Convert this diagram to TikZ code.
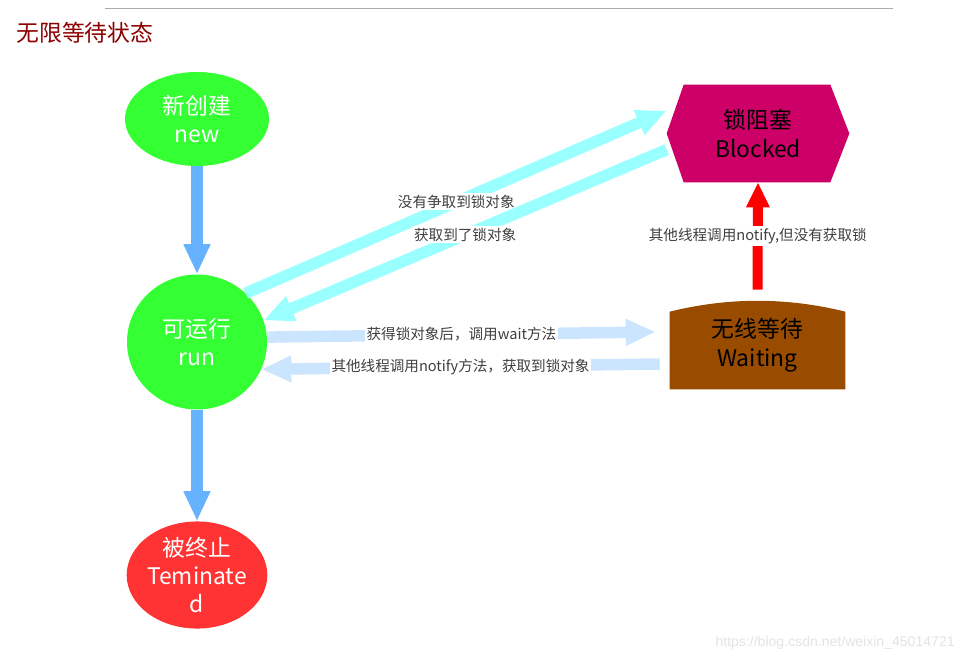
\documentclass[tikz,border=0pt]{standalone}
\usepackage{fontspec}
\setmainfont{Noto Sans CJK SC}
\newfontfamily\markfont{Liberation Sans}
\usetikzlibrary{arrows.meta,shapes.geometric,backgrounds}
\definecolor{stategreen}{HTML}{33FF33}
\definecolor{endred}{HTML}{FF3333}
\definecolor{blockpink}{HTML}{CC0066}
\definecolor{waitbrown}{HTML}{994C00}
\definecolor{downblue}{HTML}{66B2FF}
\definecolor{lockcyan}{HTML}{99FFFF}
\definecolor{paleblue}{HTML}{CCE5FF}
\definecolor{notifyred}{HTML}{FF0000}
\definecolor{titlered}{HTML}{8B0000}
\definecolor{labelgray}{HTML}{3F3F3F}
\definecolor{rulegray}{HTML}{AAAAAA}
\definecolor{markgray}{HTML}{E3E3E3}

\begin{document}
\begin{tikzpicture}[x=0.02cm, y=-0.02cm,
    state/.style={ellipse, align=center, inner sep=0pt, text=white, font=\fontsize{13}{16}\selectfont},
    lbl/.style={midway, fill=white, inner sep=1pt, text=labelgray, font=\fontsize{8.3}{10}\selectfont},
    fat/.style={line width=0.23cm, -{Triangle[length=0.6cm,width=0.5cm]}}]
    \useasboundingbox (0,0) rectangle (969,662);

        % Header
        \draw[draw=rulegray, line width=0.02cm] (105,9) -- (893,9);
        \node (title) [anchor=west, inner sep=0pt, text=titlered, font=\fontsize{13}{16}\selectfont] at (16,33) {无限等待状态};

        % Nodes
        \node (new) [state, fill=stategreen, minimum width=2.88cm, minimum height=1.88cm] at (197,119) {新创建\\new};
        \node (run) [state, fill=stategreen, minimum width=2.8cm, minimum height=2.7cm] at (197,342) {可运行\\run};
        \node (terminated) [state, fill=endred, minimum width=2.8cm, minimum height=2.1cm] at (197,575) {被终止\\Teminate\\d};
        \node (blocked) [align=center, font=\fontsize{13}{16.5}\selectfont, minimum width=3.64cm, minimum height=1.94cm] at (758,133.5) {锁阻塞\\Blocked};
        \node (waiting) [align=center, font=\fontsize{13}{16.5}\selectfont, minimum width=3.5cm, minimum height=1.76cm] at (757.5,345) {无线等待\\Waiting};

        \begin{pgfonlayer}{background}
            \fill[blockpink] (blocked.west) -- ([xshift=0.34cm]blocked.north west) -- ([xshift=-0.38cm]blocked.north east) -- (blocked.east) -- ([xshift=-0.38cm]blocked.south east) -- ([xshift=0.34cm]blocked.south west) -- cycle;
            \fill[waitbrown] (waiting.south west) -- ([yshift=-0.22cm]waiting.north west) .. controls ([xshift=-0.58cm,yshift=0.07cm]waiting.north) and ([xshift=0.58cm,yshift=0.07cm]waiting.north) .. ([yshift=-0.22cm]waiting.north east) -- (waiting.south east) -- cycle;
        \end{pgfonlayer}

        \coordinate (waitin) at ([xshift=-0.28cm,yshift=0.26cm]waiting.west);
        \coordinate (waitout) at ([xshift=-0.2cm,yshift=-0.38cm]waiting.west);
        \coordinate (waittop) at ([yshift=0.22cm]waiting.north);

        % Arrows
        \foreach \i/\j in {new/run, run/terminated} {
            \draw[fat, draw=downblue, fill=downblue] (\i) -- (\j);
        }
        \foreach \i/\j/\c/\t in {run.45/blocked.166/lockcyan/没有争取到锁对象, blocked.190/run.18/lockcyan/获取到了锁对象, run.4/waitin/paleblue/获得锁对象后，调用wait方法, waitout/run.-23/paleblue/其他线程调用notify方法，获取到锁对象} {
            \draw[fat, draw=\c, fill=\c] (\i) -- (\j) node[lbl] {\t};
        }
        \draw[line width=0.2cm, draw=notifyred, -{Triangle[length=0.5cm,width=0.44cm]}] (waittop) -- (blocked.south) node[lbl] {其他线程调用notify,但没有获取锁};

        \node (mark) [anchor=east, inner sep=0pt, text=markgray, font=\markfont\fontsize{8}{10}\selectfont] at (955,643) {https://blog.csdn.net/weixin\_45014721};

    \end{tikzpicture}
\end{document}
